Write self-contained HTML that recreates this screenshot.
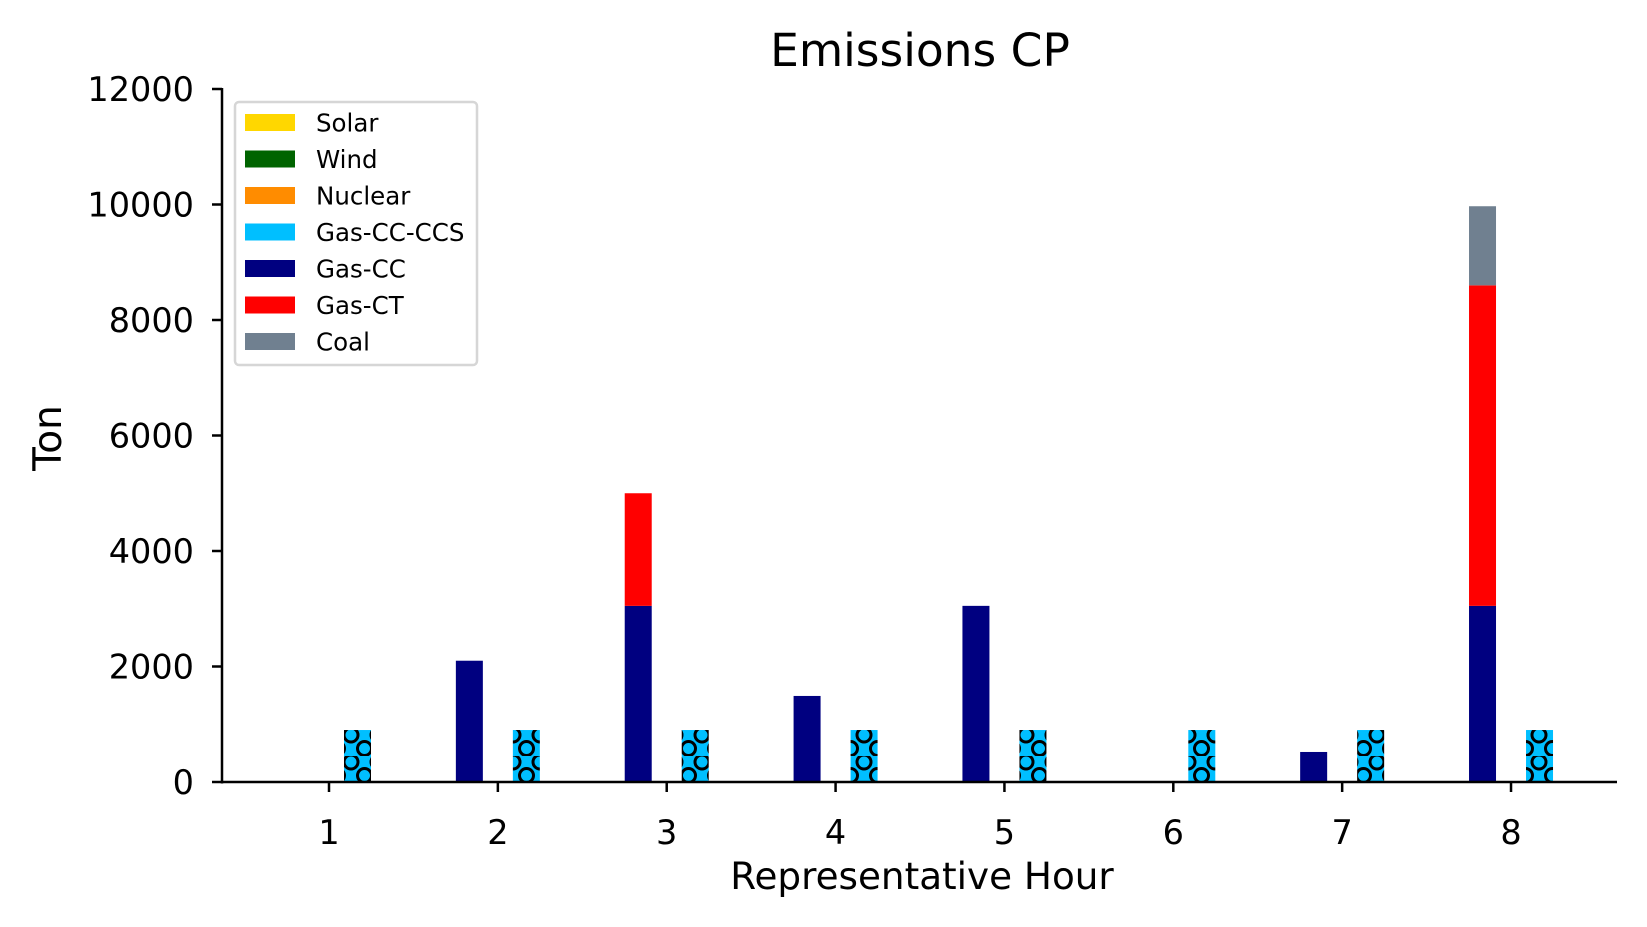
<!DOCTYPE html>
<html><head><meta charset="utf-8"><style>
html,body{margin:0;padding:0;background:#fff;}
svg{display:block;font-family:"DejaVu Sans","Liberation Sans",sans-serif;}
</style></head><body>
<svg id="chart" width="1647" height="927">
<defs>
<pattern id="hatchO" patternUnits="userSpaceOnUse" width="27" height="27" x="0" y="0">
<rect width="27" height="27" fill="#00BFFF"/>
<circle cx="0" cy="6" r="7" fill="none" stroke="#000" stroke-width="3"/>
<circle cx="27" cy="6" r="7" fill="none" stroke="#000" stroke-width="3"/>
<circle cx="13.5" cy="19.5" r="7" fill="none" stroke="#000" stroke-width="3"/>
</pattern>
</defs>
<text x="920" y="66" font-size="45.5" text-anchor="middle">Emissions CP</text>
<text x="0" y="0" font-size="39" text-anchor="middle" transform="translate(61,438) rotate(-90)">Ton</text>
<text x="922" y="889" font-size="37.3" text-anchor="middle">Representative Hour</text>
<g id="bars"></g>
<g id="axes"></g>
<g>
<rect x="235" y="102" width="242" height="263" rx="4" fill="#fff" fill-opacity="0.9" stroke="#d6d6d6" stroke-width="2.5"/>
<g id="legend-items"></g>
</g>
</svg>
<script>
const hours = [1,2,3,4,5,6,7,8];
const gasCC = [0,2100,3050,1490,3050,0,520,3050];
const gasCT = [0,0,1950,0,0,0,0,5550];
const coal = [0,0,0,0,0,0,0,1370];
const gasCCS = [900,900,900,900,900,900,900,900];
const yTicks = [0,2000,4000,6000,8000,10000,12000];
const legendLabels = ["Solar","Wind","Nuclear","Gas-CC-CCS","Gas-CC","Gas-CT","Coal"];
const legendColors = ["#FFD700","#006400","#FF8C00","#00BFFF","#000080","#FF0000","#708090"];

const NS="http://www.w3.org/2000/svg";
const X0=222, X1=1617, Y0=782, Ytop=89;
const xs = h => 329 + (h-1)*168.86;
const ys = v => Y0 - v*(Y0-Ytop)/12000;
const bw = 27;
function mk(tag, attrs, parent){const e=document.createElementNS(NS,tag);for(const k in attrs)e.setAttribute(k,attrs[k]);parent.appendChild(e);return e;}
const bars=document.getElementById('bars');
hours.forEach((h,i)=>{
  const cx=xs(h)-28.5;
  let base=0;
  [[gasCC,"#000080","gas-cc-bar"],[gasCT,"#FF0000","gas-ct-bar"],[coal,"#708090","coal-bar"]].forEach(([arr,col,nm])=>{
    const v=arr[i];
    if(v>0){
      const r=mk('rect',{x:cx-bw/2,y:ys(base+v),width:bw,height:ys(base)-ys(base+v),fill:col},bars);
      
      
    }
    base+=v;
  });
  const hx=xs(h)+28.5;
  const r=mk('rect',{x:hx-bw/2,y:ys(gasCCS[i]),width:bw,height:ys(0)-ys(gasCCS[i]),fill:"url(#hatchO)"},bars);
  
  
});
const axes=document.getElementById('axes');
const ya=mk('line',{x1:X0,y1:Ytop-1,x2:X0,y2:Y0+1.5,stroke:"#000","stroke-width":2.5},axes);


const xa=mk('line',{x1:X0-1,y1:Y0,x2:X1,y2:Y0,stroke:"#000","stroke-width":2.5},axes);


yTicks.forEach(t=>{
  mk('line',{x1:X0-10,y1:ys(t),x2:X0,y2:ys(t),stroke:"#000","stroke-width":2.5},axes);
  const tx=mk('text',{x:X0-28,y:ys(t)+12,"font-size":33.5,"text-anchor":"end"},axes);
  tx.textContent=t;
  
  
});
hours.forEach(h=>{
  mk('line',{x1:xs(h),y1:Y0,x2:xs(h),y2:Y0+10,stroke:"#000","stroke-width":2.5},axes);
  const tx=mk('text',{x:xs(h),y:Y0+62,"font-size":33.5,"text-anchor":"middle"},axes);
  tx.textContent=h;
  
  
});
const lg=document.getElementById('legend-items');
legendLabels.forEach((lab,i)=>{
  const y=114+i*36.5;
  const p=mk('rect',{x:245,y:y,width:50,height:17,fill:legendColors[i]},lg);
  
  
  const t=mk('text',{x:316,y:y+17.5,"font-size":24.5},lg);
  t.textContent=lab;
  
  
});
</script>
</body></html>
